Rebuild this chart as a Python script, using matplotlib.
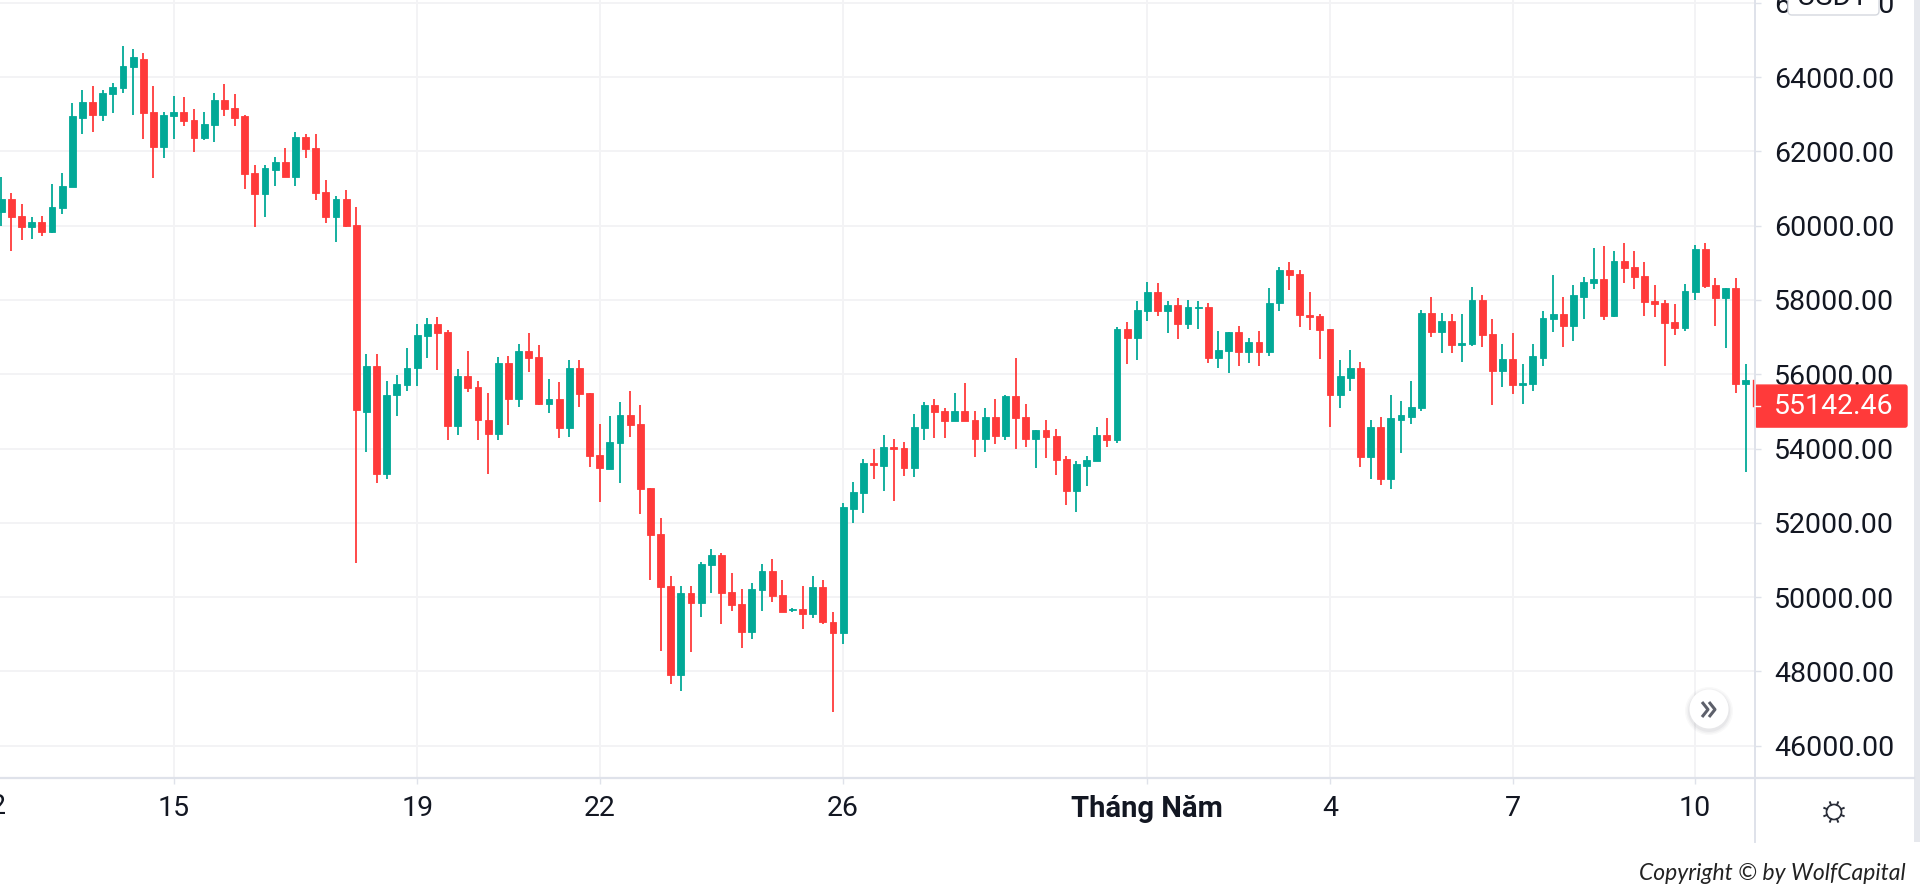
# BTC/USDT 4h candles, TradingView look
import matplotlib
matplotlib.use('Agg')
import matplotlib.pyplot as plt
import matplotlib.patches as patches
import numpy as np

plt.rcParams['font.family'] = ['Roboto', 'DejaVu Sans']

opens = [
    60370, 60710, 60260, 59950, 60110, 59840, 60470, 61040, 62910, 63340,
    62980, 63540, 63700, 64260, 64480, 63060, 62110, 62940, 63060, 62850,
    62350, 62700, 63370, 63180, 62940, 61420, 60840, 61510, 61700, 61320,
    62380, 62100, 60910, 60240, 60710, 60030, 54990, 56220, 53320, 55440,
    55710, 56160, 57040, 57340, 57150, 54600, 55940, 55660, 54780, 54400,
    56300, 55320, 56620, 56460, 55190, 55340, 54560, 56180, 55500, 53820,
    53460, 54150, 54900, 54660, 52940, 51700, 50300, 47910, 50100, 49840,
    50870, 51130, 50130, 49820, 49070, 50200, 50700, 50050, 49640, 49690,
    49550, 50260, 49330, 49040, 52380, 52800, 53620, 53540, 54050, 54010,
    53470, 54540, 55170, 55010, 54750, 55010, 54770, 54260, 54850, 54340,
    55410, 54850, 54260, 54490, 54330, 53730, 52870, 53540, 53670, 54370,
    54230, 57220, 56980, 57700, 58220, 57700, 57860, 57340, 57780, 57810,
    56430, 56620, 57140, 56590, 56860, 56590, 57910, 58810, 58690, 57600,
    57580, 57220, 55430, 55910, 56180, 53780, 54570, 53170, 54770, 54850,
    55090, 57640, 57130, 57440, 56780, 56810, 58000, 57080, 56100, 56410,
    55700, 55740, 56450, 57500, 57610, 57290, 58090, 58450, 58570, 57560,
    59040, 58890, 58650, 57960, 57930, 57410, 57250, 58220, 59370, 58410,
    58050, 58320, 55740,
]
highs = [
    61300, 60870, 60580, 60220, 60270, 61110, 61420, 63290, 63660, 63770,
    63660, 63850, 64840, 64760, 64650, 63770, 63060, 63490, 63450, 63130,
    63060, 63570, 63810, 63540, 62970, 61620, 61620, 61860, 62100, 62510,
    62460, 62460, 61230, 60790, 60950, 60510, 56540, 56540, 55820, 55980,
    56700, 57340, 57510, 57540, 57180, 56140, 56620, 55820, 55500, 56460,
    56500, 56820, 57100, 56780, 55860, 55780, 56380, 56380, 55500, 54660,
    54870, 55260, 55540, 55170, 52940, 52130, 50580, 50300, 50300, 50940,
    51300, 51180, 50660, 50220, 50380, 50890, 51020, 50460, 49700, 50300,
    50580, 50460, 49610, 52540, 53100, 53710, 53980, 54370, 54250, 54170,
    54930, 55250, 55330, 55090, 55490, 55770, 55010, 55090, 55330, 55450,
    56450, 55210, 54490, 54770, 54530, 53810, 53660, 53810, 54580, 54820,
    57280, 57410, 57970, 58490, 58450, 57970, 58050, 58010, 57970, 57930,
    57170, 57140, 57300, 56980, 57170, 58330, 58890, 59020, 58810, 58210,
    57610, 57220, 56380, 56660, 56340, 54770, 54850, 55450, 55290, 55810,
    57730, 58080, 57640, 57610, 57610, 58360, 58130, 57490, 56810, 57110,
    56280, 56810, 57690, 58680, 58080, 58410, 58610, 59400, 59450, 59320,
    59530, 59320, 59010, 58410, 58000, 57880, 58440, 59480, 59530, 58600,
    58320, 58600, 56280,
]
lows = [
    60000, 59330, 59610, 59640, 59720, 59790, 60320, 61040, 62470, 62510,
    62830, 63020, 63580, 62990, 62320, 61270, 61830, 62320, 62670, 61990,
    62310, 62260, 62940, 62670, 60990, 59960, 60230, 61070, 61320, 61070,
    61830, 60680, 60080, 59560, 59960, 50920, 53910, 53080, 53190, 54870,
    55550, 55670, 56430, 56110, 54230, 54360, 55510, 54230, 53310, 54230,
    54630, 55110, 56070, 55170, 54950, 54270, 54320, 55110, 53510, 52560,
    53440, 53070, 54320, 52230, 50470, 48550, 47670, 47470, 48510, 49470,
    50110, 49270, 49630, 48620, 48870, 49630, 49870, 49590, 49590, 49150,
    49430, 49270, 46900, 48750, 52000, 52270, 53190, 52870, 52590, 53260,
    53230, 54220, 54270, 54270, 54750, 54750, 53780, 53900, 54110, 54220,
    53990, 54030, 53470, 53750, 53300, 52470, 52300, 52980, 53670, 54030,
    54150, 56270, 56380, 57420, 57580, 57100, 56940, 57220, 57220, 56300,
    56180, 56020, 56220, 56300, 56220, 56500, 57700, 58260, 57260, 57180,
    56420, 54580, 55100, 55550, 53510, 53180, 53020, 52900, 53890, 54660,
    55020, 57010, 56570, 56570, 56340, 56770, 56730, 55180, 55650, 55460,
    55210, 55540, 56210, 57130, 56730, 56900, 57490, 58290, 57450, 57530,
    58450, 58290, 57570, 57530, 56220, 57050, 57170, 58010, 58330, 57290,
    56700, 55490, 53380,
]
closes = [
    60710, 60240, 59960, 60110, 59840, 60510, 61060, 62940, 63340, 62990,
    63570, 63730, 64300, 64530, 63020, 62110, 62980, 63060, 62830, 62350,
    62740, 63370, 63140, 62910, 61400, 60840, 61550, 61700, 61320, 62380,
    62070, 60880, 60240, 60710, 59990, 55040, 56220, 53320, 55450, 55730,
    56170, 57060, 57340, 57120, 54600, 55940, 55630, 54760, 54400, 56300,
    55320, 56620, 56430, 55190, 55340, 54560, 56180, 55480, 53800, 53470,
    54180, 54900, 54630, 52920, 51670, 50280, 47910, 50100, 49840, 50900,
    51130, 50120, 49790, 49070, 50220, 50700, 50040, 49590, 49690, 49550,
    50260, 49320, 49040, 52420, 52820, 53620, 53550, 54050, 53990, 53470,
    54580, 55170, 54990, 54750, 55010, 54750, 54260, 54850, 54340, 55420,
    54830, 54260, 54490, 54310, 53700, 52870, 53580, 53700, 54370, 54230,
    57220, 56980, 57730, 58220, 57700, 57860, 57340, 57810, 57820, 56430,
    56660, 57140, 56590, 56860, 56590, 57930, 58810, 58670, 57590, 57550,
    57190, 55430, 55940, 56180, 53780, 54580, 53180, 54810, 54890, 55120,
    57640, 57130, 57440, 56780, 56840, 58000, 57060, 56100, 56410, 55700,
    55760, 56490, 57520, 57610, 57290, 58130, 58490, 58570, 57570, 59040,
    58850, 58610, 57940, 57890, 57370, 57250, 58240, 59370, 58370, 58050,
    58320, 55740, 55840,
]

price_ticks = [46000, 48000, 50000, 52000, 54000, 56000, 58000, 60000, 62000, 64000, 66000]
# bar index of each date label, 6 bars per day, bar 0 = the 15th at 00:00
date_ticks = [0, 24, 42, 66, 96, 114, 132, 150]
date_labels = ['15', '19', '22', '26', 'Tháng Năm', '4', '7', '10']
last_price = 55142.46

GREEN = '#02a997'
RED = '#ff3a3a'
GRID = '#f3f3f5'
AXIS = '#dfe2ea'
TEXT = '#131722'
W, H = 1920, 891

fig = plt.figure(figsize=(W / 100, H / 100), dpi=100, facecolor='white')
ax = fig.add_axes([0, (H - 777.7) / H, 1754.5 / W, 777.7 / H])
ax.set_facecolor('white')

x = np.arange(-17, 156)
o = np.array(opens)
c = np.array(closes)
colors = [GREEN if c[i] >= o[i] else RED for i in range(len(x))]

ax.vlines(x, lows, highs, colors=colors, linewidth=1.3, zorder=3)
ax.bar(x, np.abs(c - o), bottom=np.minimum(o, c), width=0.68, color=colors,
       edgecolor=colors, linewidth=0.6, zorder=4)

ax.set_xlim(-17.125, 155.85)
ax.set_ylim(45139, 66074)

# axes
ax.yaxis.tick_right()
ax.set_yticks(price_ticks)
ax.set_yticklabels([f'{p:.2f}' for p in price_ticks])
ax.set_xticks(date_ticks)
ax.set_xticklabels(date_labels)
ax.tick_params(axis='y', length=4.3, width=1, color=AXIS, pad=10, labelsize=20.5, labelcolor=TEXT)
ax.tick_params(axis='x', length=4.3, width=1, color=AXIS, pad=8.5, labelsize=20.5, labelcolor=TEXT)
ax.get_xticklabels()[4].set_fontweight('bold')
ax.get_xticklabels()[4].set_fontsize(21)
ax.grid(True, color=GRID, linewidth=1.4)
ax.set_axisbelow(True)
for side in ax.spines:
    ax.spines[side].set_visible(False)

# the 12 is cut by the left edge, its tick is off the axes
fig.text(-9 / W, 1 - 807 / H, '12', fontsize=20.5, color=TEXT, ha='center', va='center')

# overlay in pixel coordinates for the chart furniture
ov = fig.add_axes([0, 0, 1, 1], zorder=5)
ov.set_xlim(0, W)
ov.set_ylim(H, 0)
ov.axis('off')
ov.patch.set_alpha(0)

ov.plot([0, 1914], [777.7, 777.7], color=AXIS, lw=1.6)
ov.plot([1754.5, 1754.5], [0, 842], color=AXIS, lw=1.4)
ov.add_patch(patches.Rectangle((1914, 0), 6, 842, facecolor='#e6e8ed', edgecolor='none'))

# last price tag
tag_y = H - ax.transData.transform((0, last_price))[1]
ov.add_patch(patches.FancyBboxPatch((1755, tag_y - 21), 152, 42, boxstyle='round,pad=0,rounding_size=2',
                                    facecolor=RED, edgecolor=RED, linewidth=1))
ov.plot([1753, 1753], [380, tag_y], color=RED, lw=1)
ov.plot([1755, 1760], [tag_y, tag_y], color='white', lw=1)
ov.text(1774, tag_y, f'{last_price:.2f}', color='white', fontsize=20.5, va='center', ha='left')

# USDT box over the top label
ov.add_patch(patches.FancyBboxPatch((1788, -20), 91, 35, boxstyle='round,pad=0,rounding_size=4',
                                    facecolor='white', edgecolor='#d5d8df', linewidth=1))
ov.text(1833, 5, 'USDT', color=TEXT, fontsize=20.5, ha='center', va='baseline')

# scroll button
for r, a in [(24, 0.03), (22.5, 0.04), (21, 0.05)]:
    ov.add_patch(patches.Circle((1709, 711), r, facecolor='#404050', edgecolor='none', alpha=a))
ov.add_patch(patches.Circle((1709, 709), 19.5, facecolor='white', edgecolor='none'))
for dx in [0, 7]:
    ov.plot(np.array([1702, 1708, 1702]) + dx, [702, 709.5, 717], color='#5d606b', lw=2.2,
            solid_capstyle='butt')

# settings icon
ov.add_patch(patches.Circle((1834, 812), 7.5, facecolor='white', edgecolor='#2a2e39', linewidth=1.2))
for ang in np.arange(0, 360, 45) + 22.5:
    dx, dy = np.cos(np.radians(ang)), np.sin(np.radians(ang))
    ov.plot([1834 + 7.5 * dx, 1834 + 10.5 * dx], [812 + 7.5 * dy, 812 + 10.5 * dy], color='#2a2e39', lw=1.4)

ov.text(1906, 873, 'Copyright © by WolfCapital', color='#222222', fontsize=16.5, style='italic',
        family='Lato', ha='right', va='center')

fig.savefig('out.png', dpi=100, facecolor='white')
plt.close(fig)
